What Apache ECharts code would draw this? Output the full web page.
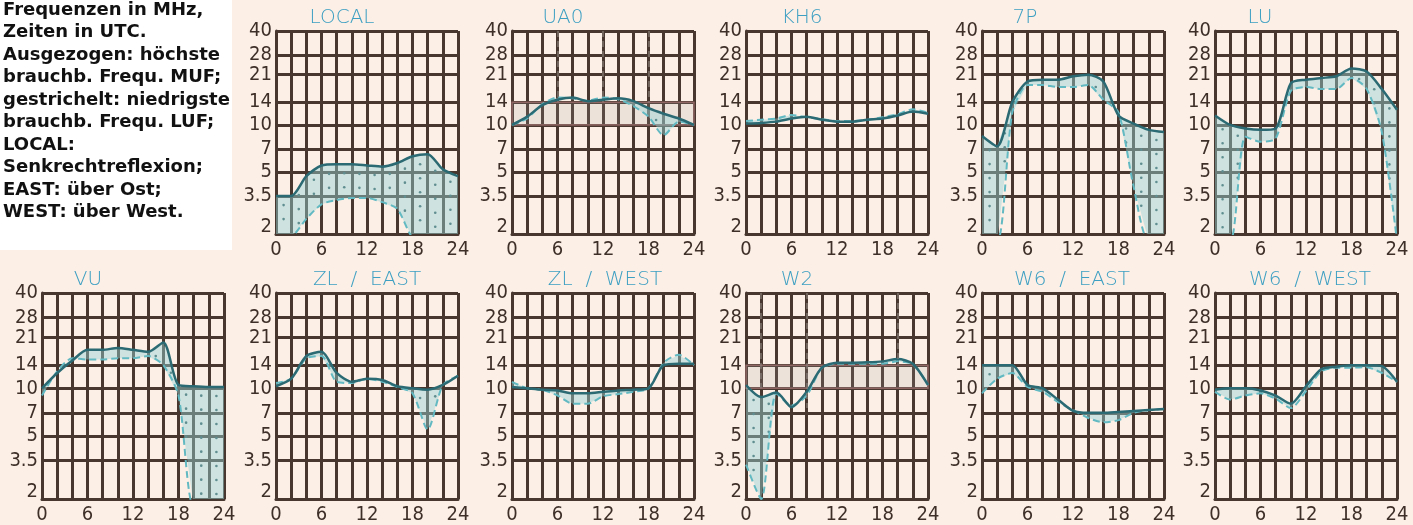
<!DOCTYPE html>
<html>
<head>
<meta charset="utf-8">
<script src="https://cdn.jsdelivr.net/npm/echarts@6/dist/echarts.min.js"></script>
<style>
html, body { margin: 0; padding: 0; background: #fbefe6; }
#main { width: 1413px; height: 525px; }
</style>
</head>
<body>
<div id="main"></div>
<script>
// Zeitachse (UTC), alle 2 Stunden
var hours = [0, 2, 4, 6, 8, 10, 12, 14, 16, 18, 20, 22, 24];
var yTicks = [2, 3.5, 5, 7, 10, 14, 21, 28, 40];
var xLabels = [0, 6, 12, 18, 24];

// MUF = ausgezogen, LUF = gestrichelt (MHz); 1.8 = unterhalb des Diagramms
var localMuf = [3.5, 3.5, 4.7, 5.5, 5.6, 5.6, 5.5, 5.4, 5.7, 6.3, 6.5, 5.2, 4.7];
var localLuf = [1.8, 1.9, 2.5, 3.1, 3.3, 3.4, 3.4, 3.2, 2.9, 1.9, 1.8, 1.8, 1.8];
var ua0Muf = [10, 11.3, 13.4, 14.5, 15, 14.2, 14.5, 14.8, 14.2, 12.8, 11.8, 11, 10];
var ua0Luf = [10, 11, 13.6, 15, 14.8, 14.3, 15, 14.6, 13.2, 11.3, 8.6, 10.5, 10];
var kh6Muf = [10.2, 10.3, 10.5, 11, 11.3, 10.8, 10.5, 10.5, 10.8, 11, 11.5, 12.2, 11.8];
var kh6Luf = [10.6, 10.8, 11, 11.6, 11.2, 10.9, 10.6, 10.6, 10.8, 11.2, 11.7, 12.6, 12];
var p7Muf = [8.5, 7.3, 14, 19, 19.5, 19.5, 20.5, 21, 19, 11.5, 10.2, 9.3, 9];
var p7Luf = [1.8, 1.8, 12, 18, 18, 17.5, 17.5, 18, 14.5, 12, 4, 1.8, 1.8];
var luMuf = [11.5, 10, 9.5, 9.3, 9.5, 18.5, 19.5, 20, 20.5, 23, 22, 17, 12.5];
var luLuf = [1.8, 1.8, 8.4, 7.8, 8.2, 16.5, 17.5, 17, 17, 20, 17, 9, 1.8];
var vuMuf = [10, 12.5, 15, 17.5, 17.5, 18, 17.5, 17, 19.5, 10.5, 10.3, 10.2, 10.2];
var vuLuf = [9, 12.8, 15.5, 15.2, 15.2, 15.5, 15.5, 16, 14, 9, 1.8, 1.8, 1.8];
var zlEastMuf = [10.3, 11.5, 16, 17, 12.5, 11, 11.5, 11.3, 10.3, 10, 9.8, 10.5, 12];
var zlEastLuf = [10.8, 11.5, 15.5, 16, 11, 10.8, 11.5, 11, 10.2, 9.3, 5.5, 10.5, 12];
var zlWestMuf = [10.2, 10, 9.8, 9.7, 9.3, 9.3, 9.5, 9.7, 9.8, 10, 14, 14.3, 14.3];
var zlWestLuf = [11, 10, 9.8, 9, 8, 8, 8.9, 9.2, 9.5, 10, 14.5, 16.3, 14];
var w2Muf = [10.5, 8.8, 9.4, 7.6, 9.5, 13.5, 14.5, 14.5, 14.6, 14.8, 15.3, 14.3, 10.5];
var w2Luf = [3.3, 2, 9.3, 7.8, 9, 13.5, 14.3, 14.3, 14.3, 14.3, 14.8, 14.2, 10.5];
var w6EastMuf = [14, 14, 14, 10.5, 10, 8.5, 7.2, 7, 7, 7.1, 7.2, 7.3, 7.4];
var w6EastLuf = [9.3, 11.5, 12.5, 10.2, 9.5, 8.2, 7.3, 6.5, 6.1, 6.3, 7, 7.3, 7.4];
var w6WestMuf = [9.8, 10, 10, 9.7, 9, 8, 10.3, 13.2, 13.7, 14, 14, 13.8, 11];
var w6WestLuf = [9.5, 8.5, 9, 9.3, 8.6, 7.5, 9.6, 12.8, 13.5, 13.5, 13.6, 12.5, 11];

var panelNames = ['LOCAL', 'UA0', 'KH6', '7P', 'LU', 'VU', 'ZL  /  EAST', 'ZL  /  WEST', 'W2', 'W6  /  EAST', 'W6  /  WEST'];
var panelMuf = [localMuf, ua0Muf, kh6Muf, p7Muf, luMuf, vuMuf, zlEastMuf, zlWestMuf, w2Muf, w6EastMuf, w6WestMuf];
var panelLuf = [localLuf, ua0Luf, kh6Luf, p7Luf, luLuf, vuLuf, zlEastLuf, zlWestLuf, w2Luf, w6EastLuf, w6WestLuf];

var legendLines = [
    'Frequenzen in MHz,',
    'Zeiten in UTC.',
    'Ausgezogen: höchste',
    'brauchb. Frequ. MUF;',
    'gestrichelt: niedrigste',
    'brauchb. Frequ. LUF;',
    'LOCAL:',
    'Senkrechtreflexion;',
    'EAST: über Ost;',
    'WEST: über West.'
];

// Layout
var panelLeft = [276, 512, 746, 982, 1215, 42, 276, 512, 746, 982, 1215];
var panelTop = [31, 31, 31, 31, 31, 293, 293, 293, 293, 293, 293];
var panelHeight = [203, 203, 203, 203, 203, 206, 208, 208, 208, 208, 207];
var panelWidth = 182;
var titleX = [342, 563, 802, 1025, 1260, 88, 367, 605, 797, 1072, 1310];

var gridColor = '#47372f';
var textColor = '#3e3029';
var titleColor = '#3d9fc2';
var axisFont = '"DejaVu Sans Condensed", "DejaVu Sans", sans-serif';

var chart = echarts.init(document.getElementById('main'));

var option = {
    backgroundColor: '#fbefe6',
    animation: false,
    grid: [],
    xAxis: [],
    yAxis: [],
    series: [],
    graphic: []
};

// Fläche zwischen LUF und MUF, punktiert wie im Original
function bandRenderer(muf, luf) {
    return function (params, api) {
        var top = [], bot = [], pts = [];
        for (var i = 0; i < hours.length; i++) {
            top.push(api.coord([hours[i], muf[i]]));
            bot.push(api.coord([hours[i], luf[i]]));
        }
        pts = top.concat(bot.slice().reverse());
        var children = [{
            type: 'polygon',
            shape: { points: pts },
            style: { fill: 'rgba(150, 212, 214, 0.45)' }
        }];
        var yMin = api.coord([0, 2])[1];
        // Punkte in Spaltenmitte
        for (var k = 0; k < hours.length - 1; k++) {
            var cx = (top[k][0] + top[k + 1][0]) / 2;
            var y1 = (top[k][1] + top[k + 1][1]) / 2;
            var y2 = Math.min((bot[k][1] + bot[k + 1][1]) / 2, yMin);
            for (var y = y1 + 9; y < y2 - 4; y += 14) {
                children.push({
                    type: 'circle',
                    shape: { cx: cx, cy: y, r: 1.3 },
                    style: { fill: '#5f8d90' }
                });
            }
        }
        return { type: 'group', children: children };
    };
}

function pairs(vals) {
    return hours.map(function (h, k) { return [h, vals[k]]; });
}

for (var i = 0; i < panelNames.length; i++) {
    option.grid.push({
        left: panelLeft[i],
        top: panelTop[i],
        width: panelWidth,
        height: panelHeight[i]
    });
    option.xAxis.push({
        type: 'value',
        gridIndex: i,
        min: 0,
        max: 24,
        interval: 2,
        axisLine: { show: true, lineStyle: { color: gridColor, width: 3 } },
        axisTick: { show: false },
        axisLabel: {
            color: textColor,
            fontFamily: axisFont,
            fontSize: 20,
            margin: 6,
            formatter: function (v) { return v % 6 === 0 ? String(v) : ''; }
        },
        splitLine: { show: true, lineStyle: { color: gridColor, width: 3 } }
    });
    option.yAxis.push({
        type: 'log',
        gridIndex: i,
        min: 2,
        max: 40,
        logBase: 10,
        axisLine: { show: true, lineStyle: { color: gridColor, width: 3 } },
        axisTick: { show: false, customValues: yTicks },
        axisLabel: {
            customValues: yTicks,
            color: textColor,
            fontFamily: axisFont,
            fontSize: 20,
            margin: 4,
            formatter: function (v) { return v === 2 ? '{b|2}' : String(v); },
            rich: { b: { fontSize: 20, fontFamily: axisFont, color: textColor, padding: [0, 0, 14, 0] } }
        },
        splitLine: { show: true, lineStyle: { color: gridColor, width: 3 } }
    });

    option.series.push({
        type: 'custom',
        xAxisIndex: i,
        yAxisIndex: i,
        clip: true,
        silent: true,
        data: [[12, 10]],
        renderItem: bandRenderer(panelMuf[i], panelLuf[i])
    });
    option.series.push({
        name: 'LUF',
        type: 'line',
        xAxisIndex: i,
        yAxisIndex: i,
        data: pairs(panelLuf[i]),
        symbol: 'none',
        smooth: 0.25,
        clip: true,
        lineStyle: { color: '#62b9c2', width: 2, type: [7, 4] }
    });
    option.series.push({
        name: 'MUF',
        type: 'line',
        xAxisIndex: i,
        yAxisIndex: i,
        data: pairs(panelMuf[i]),
        symbol: 'none',
        smooth: 0.25,
        clip: true,
        lineStyle: { color: '#2b6a73', width: 2.5 }
    });

    option.graphic.push({
        type: 'text',
        x: titleX[i],
        y: panelTop[i] - 13,
        style: {
            text: panelNames[i],
            fill: titleColor,
            font: '200 20px "DejaVu Sans", sans-serif',
            align: 'center',
            verticalAlign: 'middle'
        }
    });
}

// UA0 und W2: markiertes Band 10-14 MHz und senkrechte Strichellinien
function addMarks(idx, xs, yEnds) {
    var s = option.series[idx * 3 + 2];
    s.markArea = {
        silent: true,
        itemStyle: { color: 'rgba(175, 165, 165, 0.18)', borderColor: 'rgba(205, 140, 140, 0.5)', borderWidth: 1.5 },
        data: [[{ yAxis: 10 }, { yAxis: 14 }]]
    };
    s.markLine = {
        silent: true,
        symbol: 'none',
        label: { show: false },
        lineStyle: { color: 'rgba(140, 130, 125, 0.6)', width: 2, type: [6, 4] },
        data: xs.map(function (x, k) { return [{ coord: [x, 40] }, { coord: [x, yEnds[k]] }]; })
    };
}
addMarks(1, [6, 12, 18], [14, 14, 14]);
addMarks(8, [2, 8, 20], [10, 7.5, 14]);

// Erläuterungstext oben links
option.graphic.push({
    type: 'rect',
    z: -1,
    shape: { x: 0, y: 0, width: 232, height: 250 },
    style: { fill: '#ffffff' }
});
legendLines.forEach(function (line, k) {
    option.graphic.push({
        type: 'text',
        x: 3,
        y: 10 + k * 22.5,
        style: {
            text: line,
            fill: '#111111',
            font: 'bold 18px "DejaVu Sans", sans-serif',
            verticalAlign: 'middle'
        }
    });
});

chart.setOption(option);
</script>
</body>
</html>
